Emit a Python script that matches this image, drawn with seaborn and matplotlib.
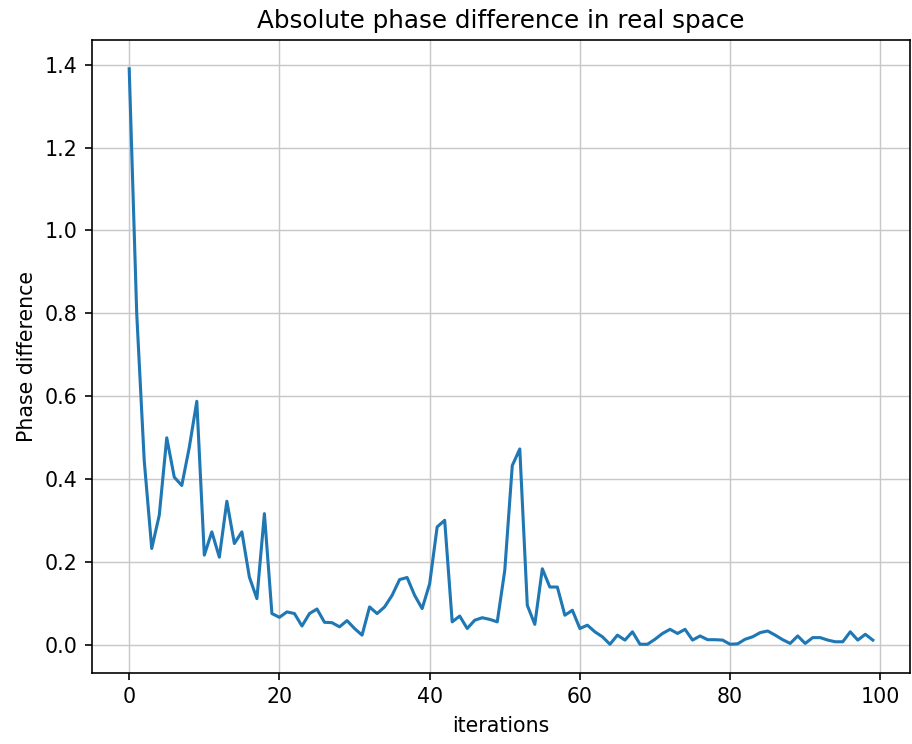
import numpy as np
import pandas as pd
import matplotlib
matplotlib.use("Agg")
import matplotlib.pyplot as plt
import seaborn as sns

# Absolute phase difference per iteration of the reconstruction
iterations = list(range(100))
phase_diff = [
    1.39, 0.80, 0.445, 0.233, 0.313, 0.500, 0.405, 0.385, 0.477, 0.588,
    0.217, 0.273, 0.212, 0.347, 0.245, 0.273, 0.164, 0.112, 0.317, 0.076,
    0.067, 0.080, 0.076, 0.046, 0.076, 0.087, 0.055, 0.054, 0.044, 0.059,
    0.040, 0.024, 0.092, 0.076, 0.092, 0.120, 0.158, 0.163, 0.120, 0.088,
    0.148, 0.285, 0.301, 0.056, 0.070, 0.040, 0.060, 0.066, 0.062, 0.056,
    0.180, 0.433, 0.473, 0.096, 0.050, 0.184, 0.140, 0.140, 0.072, 0.084,
    0.040, 0.048, 0.032, 0.020, 0.002, 0.024, 0.012, 0.032, 0.002, 0.002,
    0.014, 0.028, 0.038, 0.028, 0.038, 0.012, 0.022, 0.013, 0.013, 0.012,
    0.002, 0.003, 0.014, 0.020, 0.030, 0.034, 0.024, 0.013, 0.004, 0.022,
    0.004, 0.018, 0.018, 0.012, 0.008, 0.008, 0.032, 0.012, 0.026, 0.012,
]

df = pd.DataFrame({"iterations": iterations, "phase": phase_diff})

dpi = 148
fig = plt.figure(figsize=(912 / dpi, 744 / dpi), dpi=dpi)
ax = fig.add_axes([0.1009, 0.0954, 0.8969, 0.8508])

sns.lineplot(data=df, x="iterations", y="phase", ax=ax, color="#1f77b4", linewidth=1.5)

ax.set_title("Absolute phase difference in real space")
ax.set_xlabel("iterations")
ax.set_ylabel("Phase difference")
ax.set_xticks([0, 20, 40, 60, 80, 100])
ax.set_yticks([0.0, 0.2, 0.4, 0.6, 0.8, 1.0, 1.2, 1.4])
ax.grid(True, color="#c8c8c8", linewidth=0.7)
ax.set_axisbelow(True)

fig.savefig("out.png", dpi=dpi)
